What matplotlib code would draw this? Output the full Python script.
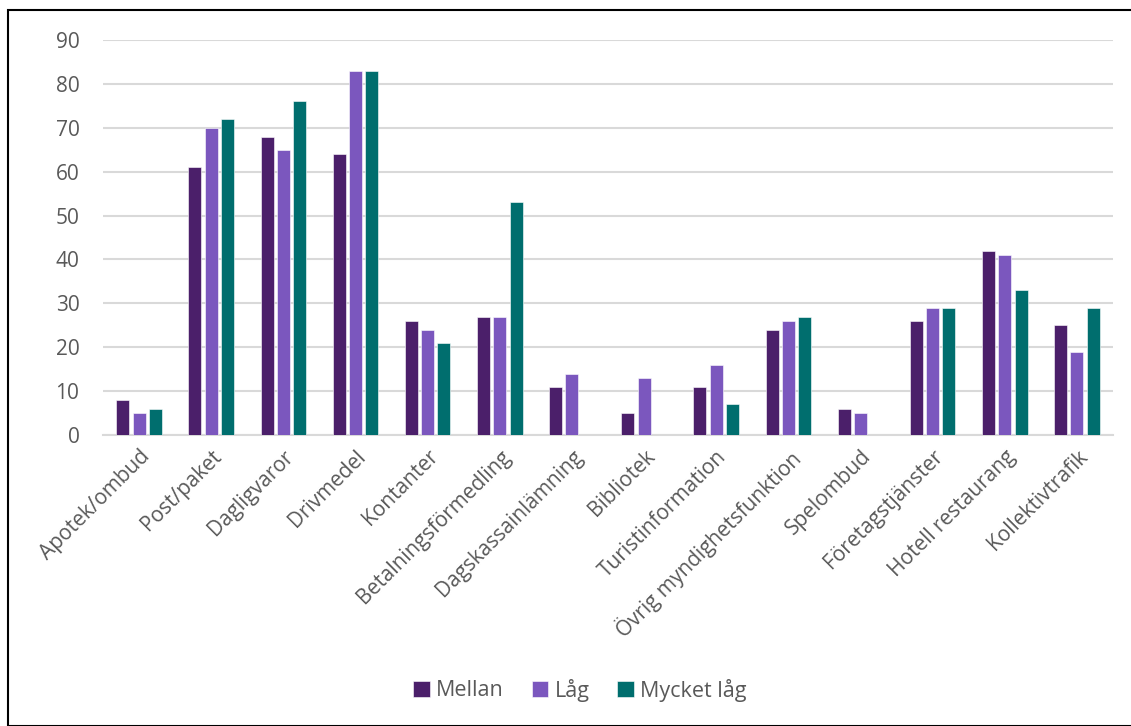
import matplotlib
matplotlib.use("Agg")
import matplotlib.pyplot as plt
import numpy as np
from matplotlib.patches import Rectangle

categories = ["Apotek/ombud", "Post/paket", "Dagligvaror", "Drivmedel", "Kontanter",
              "Betalningsförmedling", "Dagskassainlämning", "Bibliotek", "Turistinformation",
              "Övrig myndighetsfunktion", "Spelombud", "Företagstjänster",
              "Hotell restaurang", "Kollektivtrafik"]
mellan = [8, 61, 68, 64, 26, 27, 11, 5, 11, 24, 6, 26, 42, 25]
lag = [5, 70, 65, 83, 24, 27, 14, 13, 16, 26, 5, 29, 41, 19]
mycket_lag = [6, 72, 76, 83, 21, 53, 0, 0, 7, 27, 0, 29, 33, 29]
series_names = ["Mellan", "Låg", "Mycket låg"]
colors = ["#4B1F6A", "#7B57BE", "#006E6E"]
yticks = [0, 10, 20, 30, 40, 50, 60, 70, 80, 90]

plt.rcParams['font.family'] = ['Open Sans', 'DejaVu Sans']
text_color = "#595959"

fig = plt.figure(figsize=(11.31, 7.26), dpi=100)
ax = fig.add_axes([103/1131, 1-435/726, (1113-103)/1131, (435-40)/726])

x = np.arange(len(categories))
w = 0.18
step = 0.225
for i, (vals, name, c) in enumerate(zip([mellan, lag, mycket_lag], series_names, colors)):
    ax.bar(x + (i-1)*step, vals, width=w, color=c, label=name, zorder=3,
           edgecolor="white", linewidth=0.4)

ax.set_xlim(-0.5, len(categories)-0.5)
ax.set_ylim(0, 90)
ax.set_yticks(yticks)
ax.yaxis.grid(True, color="#D9D9D9", linewidth=1.5, zorder=0)
ax.set_axisbelow(True)
for s in ["top", "right", "left"]:
    ax.spines[s].set_visible(False)
ax.spines["bottom"].set_color("#D9D9D9")
ax.spines["bottom"].set_linewidth(1.5)
ax.tick_params(axis="y", length=0, labelsize=15, labelcolor=text_color, pad=17)
ax.tick_params(axis="x", length=0, labelsize=15, labelcolor=text_color, pad=8)
ax.set_xticks(x)
ax.set_xticklabels(categories, rotation=45, ha="right", rotation_mode="anchor")

leg = fig.legend(loc="center", bbox_to_anchor=(580/1131, 1-690/726), ncol=3, frameon=False,
                 fontsize=15.5, handlelength=0.75, handleheight=0.75, columnspacing=1.3,
                 handletextpad=0.3)
for t in leg.get_texts():
    t.set_color(text_color)

fig.patches.append(Rectangle((8/1131, 0), (1131-8)/1131 + 0.01, 1-10/726,
                             transform=fig.transFigure, fill=False,
                             edgecolor="black", linewidth=1.5))

fig.savefig("out.png", dpi=100)
